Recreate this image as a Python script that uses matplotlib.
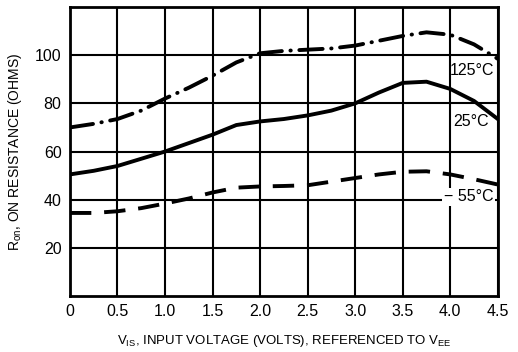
import numpy as np
import matplotlib.pyplot as plt

plt.rcParams['font.family'] = ['Liberation Sans', 'DejaVu Sans']
plt.rcParams['font.stretch'] = 'condensed'
plt.rcParams['mathtext.fontset'] = 'custom'
plt.rcParams['mathtext.rm'] = 'Liberation Sans'

v_is = [0, 0.25, 0.5, 0.75, 1.0, 1.25, 1.5, 1.75, 2.0, 2.25, 2.5, 2.75,
        3.0, 3.25, 3.5, 3.75, 4.0, 4.25, 4.5]
r_125 = [70, 71.5, 73.5, 77, 82, 86.5, 91.5, 97, 100.8, 101.8, 102.3, 102.8,
         104, 106, 108, 109.5, 108.5, 104.5, 98.5]
r_25 = [50.5, 52, 54, 57, 60, 63.5, 67, 71, 72.5, 73.5, 75, 77,
        80, 84.5, 88.5, 89, 86, 81, 73.5]
r_m55 = [34.5, 34.5, 35.2, 36.5, 38.4, 40.5, 43, 45, 45.5, 45.7, 46, 47.5,
         49, 50.5, 51.6, 51.8, 50.5, 48.5, 46.3]

x_ticks = [0, 0.5, 1.0, 1.5, 2.0, 2.5, 3.0, 3.5, 4.0, 4.5]
x_labels = ['0', '0.5', '1.0', '1.5', '2.0', '2.5', '3.0', '3.5', '4.0', '4.5']
y_ticks = [20, 40, 60, 80, 100]

fig = plt.figure(figsize=(5.18, 3.52), dpi=100)
ax = fig.add_axes([0.135, 0.159, 0.826, 0.821])

ax.set_xlim(0, 4.5)
ax.set_ylim(0, 120)
ax.set_xticks(x_ticks)
ax.set_xticklabels(x_labels)
ax.set_yticks(y_ticks)
ax.tick_params(length=0, labelsize=11.5, pad=6)
ax.grid(True, color='black', linewidth=1.5)
ax.set_axisbelow(True)
for s in ax.spines.values():
    s.set_linewidth(2)

ax.plot(v_is, r_125, color='black', lw=2.8, dashes=(6, 2.2, 0.1, 2.2),
        dash_capstyle='round')
ax.plot(v_is, r_25, color='black', lw=2.8)
ax.plot(v_is, r_m55, color='black', lw=2.8, dashes=(5.5, 3.3))

ax.text(3.99, 93.5, '125°C', fontsize=11.5, ha='left', va='center')
ax.text(4.03, 72.5, '25°C', fontsize=11.5, ha='left', va='center')
ax.text(3.93, 41.3, '\u2212 55°C', fontsize=11.5, ha='left', va='center',
        bbox=dict(facecolor='white', edgecolor='none', pad=1))

ax.set_ylabel('R$_{\\mathregular{on}}$, ON RESISTANCE (OHMS)', fontsize=10, labelpad=8)
ax.set_xlabel('V$_{\\mathregular{IS}}$, INPUT VOLTAGE (VOLTS), REFERENCED TO V$_{\\mathregular{EE}}$',
              fontsize=9.5, labelpad=10)

fig.savefig('out.png', dpi=100)
